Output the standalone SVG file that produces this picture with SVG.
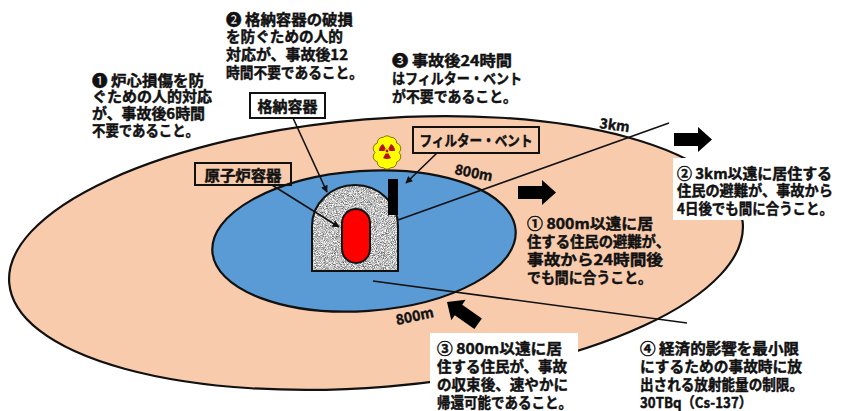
<svg xmlns="http://www.w3.org/2000/svg" width="842" height="411" viewBox="0 0 842 411">
  <style>
    .t{font-family:'Noto Sans CJK JP','Noto Sans CJK SC','DejaVu Sans',sans-serif;font-weight:700;font-size:14.5px;fill:#111;stroke:#111;stroke-width:0.45}
    .dist{font-family:'Noto Sans CJK JP','DejaVu Sans',sans-serif;font-weight:700;font-size:14px;fill:#111;stroke:#111;stroke-width:0.4}
    .box{fill:none;stroke:#111;stroke-width:2}
    .conn{stroke:#111;stroke-width:1.6;fill:none}
    .zone{stroke:#111;stroke-width:2.2}
    .blk{fill:#000}
  </style>
  <defs>
    <marker id="tip" viewBox="0 0 10 10" refX="9" refY="5" markerWidth="8" markerHeight="7" markerUnits="userSpaceOnUse" orient="auto">
      <path d="M0,0 L10,5 L0,10 Z" fill="#111"/>
    </marker>
    <filter id="granite" x="0" y="0" width="100%" height="100%" color-interpolation-filters="sRGB">
      <feTurbulence type="fractalNoise" baseFrequency="1.1" numOctaves="2" seed="7" result="noise"/>
      <feColorMatrix in="noise" type="matrix" result="grey"
        values="1.3 0 0 0 0.1  1.3 0 0 0 0.1  1.3 0 0 0 0.1  0 0 0 0 1"/>
      <feComposite in="grey" in2="SourceGraphic" operator="in"/>
    </filter>
    <path id="blockArrow" d="M-38,-6.5 H-14 V-12.5 L0,0 L-14,12.5 V6.5 H-38 Z"/>
  </defs>

  <!-- evacuation zones -->
  <g id="zone-3km">
    <ellipse class="zone" cx="376" cy="253" rx="368" ry="134" fill="#F8CBAD" transform="rotate(-4.7 376 253)"/>
  </g>
  <g id="zone-800m">
    <ellipse class="zone" cx="364" cy="241" rx="152" ry="70" fill="#5B9BD5" transform="rotate(-4 364 241)"/>
  </g>

  <!-- containment building with reactor vessel and vent stack -->
  <g id="containment">
    <path d="M312,271 V226 A43,41 0 0 1 398,226 V271 Z" fill="#bbb" filter="url(#granite)"/>
    <path d="M312,271 V226 A43,41 0 0 1 398,226 V271 Z" fill="none" stroke="#111" stroke-width="2"/>
  </g>
  <g id="reactor-vessel">
    <rect x="342" y="209" width="28" height="54" rx="14" fill="#FF0000" stroke="#111" stroke-width="2"/>
  </g>
  <g id="vent-stack">
    <rect x="388" y="179" width="10" height="36" fill="#000"/>
  </g>
  <g id="release-cloud">
    <path d="M399,152.5 A5.5,5.5 0 0 1 396.7,161.9 A5.5,5.5 0 0 1 390.7,167.7 A5.5,5.5 0 0 1 383.3,167.7 A5.5,5.5 0 0 1 377.3,161.9 A5.5,5.5 0 0 1 375,152.5 A5.5,5.5 0 0 1 377.3,143.1 A5.5,5.5 0 0 1 383.3,137.3 A5.5,5.5 0 0 1 390.7,137.3 A5.5,5.5 0 0 1 396.7,143.1 A5.5,5.5 0 0 1 399,152.5 Z" fill="#FFFF00" stroke="#6b5a00" stroke-width="0.8"/>
    <g fill="#B4141E">
      <path d="M388.25,153.17 L391,157.93 A8,8 0 0 1 383,157.93 L385.75,153.17 A2.5,2.5 0 0 0 388.25,153.17 Z"/>
      <path d="M384.5,151 L379,151 A8,8 0 0 1 383,144.07 L385.75,148.83 A2.5,2.5 0 0 0 384.5,151 Z"/>
      <path d="M388.25,148.83 L391,144.07 A8,8 0 0 1 395,151 L389.5,151 A2.5,2.5 0 0 0 388.25,148.83 Z"/>
      <circle cx="387" cy="151" r="1.4"/>
    </g>
  </g>

  <!-- leader lines -->
  <g id="connectors">
    <line class="conn" x1="293" y1="118" x2="327" y2="192" marker-end="url(#tip)"/>
    <line class="conn" x1="272" y1="185" x2="339" y2="227" marker-end="url(#tip)"/>
    <line class="conn" x1="437" y1="153" x2="406" y2="183" marker-end="url(#tip)"/>
    <line class="conn" x1="398" y1="220" x2="669" y2="123"/>
    <line class="conn" x1="373" y1="281" x2="687" y2="323"/>
  </g>

  <!-- block arrows -->
  <g id="arrows">
    <use href="#blockArrow" class="blk" transform="translate(712,139.5)"/>
    <use href="#blockArrow" class="blk" transform="translate(556,192.5)"/>
    <use href="#blockArrow" class="blk" transform="translate(447,302) rotate(215)"/>
  </g>

  <!-- component labels -->
  <g id="label-containment">
    <rect class="box" x="250" y="93" width="75" height="25"/>
    <text class="t" x="287.5" y="112" text-anchor="middle" textLength="60" lengthAdjust="spacingAndGlyphs">格納容器</text>
  </g>
  <g id="label-vessel">
    <rect class="box" x="195" y="163" width="96" height="22"/>
    <text class="t" x="243" y="180.5" text-anchor="middle" textLength="77" lengthAdjust="spacingAndGlyphs">原子炉容器</text>
  </g>
  <g id="label-vent">
    <rect class="box" x="413" y="127" width="126" height="26"/>
    <text class="t" x="476" y="145.5" text-anchor="middle" textLength="113" lengthAdjust="spacingAndGlyphs">フィルター・ベント</text>
  </g>

  <!-- distance marks -->
  <text class="dist" transform="translate(599,128) rotate(8)">3km</text>
  <text class="dist" transform="translate(454,174) rotate(11)">800m</text>
  <text class="dist" transform="translate(397,325) rotate(-12)">800m</text>

  <!-- requirement notes -->
  <g id="note-core">
    <text class="t" x="92" y="85.5" textLength="112" lengthAdjust="spacingAndGlyphs">❶ 炉心損傷を防</text>
    <text class="t" x="92" y="102" textLength="120" lengthAdjust="spacingAndGlyphs">ぐための人的対応</text>
    <text class="t" x="92" y="118.5" textLength="113" lengthAdjust="spacingAndGlyphs">が、事故後6時間</text>
    <text class="t" x="92" y="135.5" textLength="107" lengthAdjust="spacingAndGlyphs">不要であること。</text>
  </g>
  <g id="note-containment">
    <text class="t" x="226" y="24.5" textLength="127" lengthAdjust="spacingAndGlyphs">❷ 格納容器の破損</text>
    <text class="t" x="226" y="42" textLength="117" lengthAdjust="spacingAndGlyphs">を防ぐための人的</text>
    <text class="t" x="226" y="60" textLength="122" lengthAdjust="spacingAndGlyphs">対応が、事故後12</text>
    <text class="t" x="226" y="77.5" textLength="137" lengthAdjust="spacingAndGlyphs">時間不要であること。</text>
  </g>
  <g id="note-vent">
    <text class="t" x="392" y="65.5" textLength="120" lengthAdjust="spacingAndGlyphs">❸ 事故後24時間</text>
    <text class="t" x="392" y="83.5" textLength="130" lengthAdjust="spacingAndGlyphs">はフィルター・ベント</text>
    <text class="t" x="392" y="101.5" textLength="125" lengthAdjust="spacingAndGlyphs">が不要であること。</text>
  </g>
  <g id="note-3km">
    <rect x="673" y="158" width="168" height="62" fill="#fff"/>
    <text class="t" x="677" y="178.5" textLength="155" lengthAdjust="spacingAndGlyphs">② 3km以遠に居住する</text>
    <text class="t" x="677" y="196" textLength="156" lengthAdjust="spacingAndGlyphs">住民の避難が、事故から</text>
    <text class="t" x="677" y="213.5" textLength="156" lengthAdjust="spacingAndGlyphs">4日後でも間に合うこと。</text>
  </g>
  <g id="note-800m-evac">
    <text class="t" x="527" y="228.5" textLength="126" lengthAdjust="spacingAndGlyphs">① 800m以遠に居</text>
    <text class="t" x="527" y="246.5" textLength="143" lengthAdjust="spacingAndGlyphs">住する住民の避難が、</text>
    <text class="t" x="527" y="265" textLength="136" lengthAdjust="spacingAndGlyphs">事故から24時間後</text>
    <text class="t" x="527" y="283" textLength="125" lengthAdjust="spacingAndGlyphs">でも間に合うこと。</text>
  </g>
  <g id="note-800m-return">
    <rect x="430" y="333" width="148" height="78" fill="#fff"/>
    <text class="t" x="437" y="353.5" textLength="125" lengthAdjust="spacingAndGlyphs">③ 800m以遠に居</text>
    <text class="t" x="437" y="371.5" textLength="130" lengthAdjust="spacingAndGlyphs">住する住民が、事故</text>
    <text class="t" x="437" y="390" textLength="131" lengthAdjust="spacingAndGlyphs">の収束後、速やかに</text>
    <text class="t" x="437" y="408" textLength="135" lengthAdjust="spacingAndGlyphs">帰還可能であること。</text>
  </g>
  <g id="note-release-limit">
    <text class="t" x="640" y="353.5" textLength="159" lengthAdjust="spacingAndGlyphs">④ 経済的影響を最小限</text>
    <text class="t" x="640" y="371.5" textLength="162" lengthAdjust="spacingAndGlyphs">にするための事故時に放</text>
    <text class="t" x="640" y="390" textLength="163" lengthAdjust="spacingAndGlyphs">出される放射能量の制限。</text>
    <text class="t" x="640" y="408" textLength="112" lengthAdjust="spacingAndGlyphs">30TBq（Cs-137）</text>
  </g>
</svg>
